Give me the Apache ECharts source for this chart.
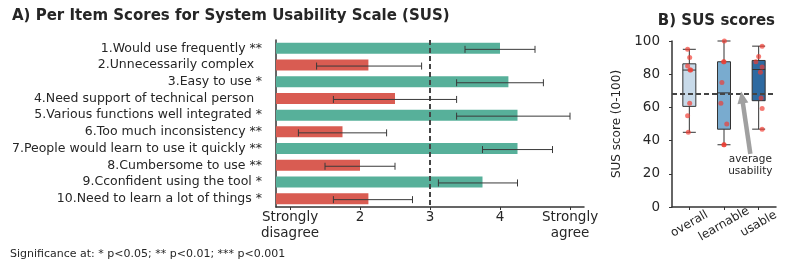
<!DOCTYPE html>
<html><head><meta charset="utf-8">
<script src="https://cdn.jsdelivr.net/npm/echarts@6/dist/echarts.min.js"></script>
<style>html,body{margin:0;padding:0;background:#fff}#c{width:789px;height:271px}</style>
</head><body><div id="c"></div>
<script>
// ---- Panel A data ----
const items = ["1.Would use frequently **","2.Unnecessarily complex  ","3.Easy to use *","4.Need support of technical person  ","5.Various functions well integrated *","6.Too much inconsistency **","7.People would learn to use it quickly **","8.Cumbersome to use **","9.Cconfident using the tool *","10.Need to learn a lot of things *"];
const itemMeans = [4.0, 2.12, 4.12, 2.5, 4.25, 1.75, 4.25, 2.0, 3.75, 2.12];
const errLow  = [3.5, 1.38, 3.38, 1.62, 3.38, 1.12, 3.75, 1.5, 3.12, 1.62];
const errHigh = [4.5, 2.88, 4.62, 3.38, 5.0, 2.38, 4.75, 2.5, 4.25, 2.75];
const itemPositive = [true,false,true,false,true,false,true,false,true,false];
const xTickValues = [1,2,3,4,5];
const xTickLabels = ["Strongly\ndisagree","2","3","4","Strongly\nagree"];
const neutral = 3;
// ---- Panel B data ----
const groups = ["overall","learnable","usable"];
const overallScores = [95, 90, 85, 82.5, 82.5, 62.5, 55, 45];
const learnableScores = [100, 87.5, 87.5, 75, 62.5, 50, 37.5, 37.5];
const usableScores = [96.9, 90.6, 87.5, 84.4, 81.25, 65.6, 59.4, 46.9];
const overallJitter = [-0.05, 0.01, -0.05, 0.02, 0.04, 0.01, -0.05, -0.03];
const learnableJitter = [0.01, -0.01, 0.0, -0.06, -0.09, 0.08, 0.0, 0.0];
const usableJitter = [0.1, 0.0, -0.08, 0.1, 0.05, 0.07, 0.1, 0.1];
const averageUsability = 68;

const groupScores = [overallScores, learnableScores, usableScores];
const groupJitter = [overallJitter, learnableJitter, usableJitter];
const boxColors = ['#c8dae9','#79abcf','#2e6aa1'];

function pct(arr, p){ const s=[...arr].sort((a,b)=>a-b); const idx=(s.length-1)*p; const lo=Math.floor(idx), hi=Math.ceil(idx); return s[lo]+(s[hi]-s[lo])*(idx-lo); }
const boxData = groupScores.map((g,i)=>({value:[Math.min(...g),pct(g,0.25),pct(g,0.5),pct(g,0.75),Math.max(...g)], itemStyle:{color:boxColors[i]}}));
const pointData = [];
groupScores.forEach((g,i)=>g.forEach((v,j)=>pointData.push([i+groupJitter[i][j], v])));

const txt = '#262626';
const font = 'DejaVu Sans';
const chart = echarts.init(document.getElementById('c'), null, {renderer:'canvas'});
chart.setOption({
  animation:false,
  textStyle:{fontFamily:font, color:txt},
  title:[
    {text:'A) Per Item Scores for System Usability Scale (SUS)', left:12, top:9, padding:0, textStyle:{fontFamily:font, fontSize:15, fontWeight:'bold', color:txt}},
    {text:'B) SUS scores', right:14, top:14, padding:0, textStyle:{fontFamily:font, fontSize:15, fontWeight:'bold', color:txt}},
    {text:'Significance at: * p<0.05; ** p<0.01; *** p<0.001', left:10, top:249, padding:0, textStyle:{fontFamily:font, fontSize:11, fontWeight:'normal', color:txt}}
  ],
  grid:[
    {left:276, top:40, width:308, height:167},
    {left:672, top:41, width:104, height:166}
  ],
  xAxis:[
    {gridIndex:0, type:'value', min:0.8, max:5.2,
     axisLine:{show:true, lineStyle:{color:'#333', width:1.5}},
     axisTick:{show:true, customValues:xTickValues, length:3, lineStyle:{color:'#333'}},
     splitLine:{show:false},
     axisLabel:{customValues:xTickValues, fontSize:13.5, color:txt, lineHeight:15.5, margin:3, fontFamily:font,
       formatter:v=>xTickLabels[xTickValues.indexOf(v)]}},
    {gridIndex:1, type:'category', data:groups, boundaryGap:true,
     axisLine:{show:true, lineStyle:{color:'#333', width:1.5}},
     axisTick:{show:true, alignWithLabel:true, length:3, lineStyle:{color:'#333'}},
     axisLabel:{rotate:30, align:'center', verticalAlign:'middle', fontSize:12, color:txt, margin:17, fontFamily:font, interval:0}},
    {gridIndex:1, type:'value', min:-0.5, max:2.5, show:false}
  ],
  yAxis:[
    {gridIndex:0, type:'category', data:items, inverse:true,
     axisLine:{show:true, lineStyle:{color:'#333', width:1.5}},
     axisTick:{show:false},
     axisLabel:{fontSize:12.5, color:txt, margin:14, fontFamily:font, interval:0}},
    {gridIndex:1, type:'value', min:0, max:100, interval:20,
     name:'SUS score (0-100)', nameLocation:'middle', nameGap:49, nameRotate:90,
     nameTextStyle:{fontSize:12, color:txt, fontFamily:font},
     axisLine:{show:true, onZero:false, lineStyle:{color:'#333', width:1.5}},
     axisTick:{show:true, length:3, lineStyle:{color:'#333'}},
     splitLine:{show:false},
     axisLabel:{fontSize:13.5, color:txt, margin:12, fontFamily:font}}
  ],
  series:[
    {type:'bar', xAxisIndex:0, yAxisIndex:0, barWidth:'66%', clip:true, z:2,
     data:itemMeans.map((v,i)=>({value:v, itemStyle:{color:itemPositive[i]?'#57b09a':'#d95c52'}})),
     markLine:{silent:true, symbol:'none', label:{show:false},
       lineStyle:{color:'#444', type:[5,3], width:2}, data:[{xAxis:neutral}]}},
    {type:'custom', xAxisIndex:0, yAxisIndex:0, clip:false, z:5,
     data:errLow.map((l,i)=>[l, errHigh[i], i]),
     renderItem:(params, api)=>{
       const a=api.coord([api.value(0), api.value(2)]);
       const b=api.coord([api.value(1), api.value(2)]);
       const y=a[1]+1, c=3.5;
       const st={stroke:'#3a3a3a', lineWidth:1};
       return {type:'group', children:[
         {type:'line', shape:{x1:a[0],y1:y,x2:b[0],y2:y}, style:st},
         {type:'line', shape:{x1:a[0],y1:y-c,x2:a[0],y2:y+c}, style:st},
         {type:'line', shape:{x1:b[0],y1:y-c,x2:b[0],y2:y+c}, style:st}
       ]};
     }},
    {type:'boxplot', xAxisIndex:1, yAxisIndex:1, boxWidth:[13,13],
     itemStyle:{borderColor:'#333', borderWidth:1}, data:boxData,
     markLine:{silent:true, symbol:'none', label:{show:false},
       lineStyle:{color:'#444', type:[5,3], width:2}, data:[{yAxis:averageUsability}]}},
    {type:'scatter', xAxisIndex:2, yAxisIndex:1, symbolSize:5, z:5,
     itemStyle:{color:'rgba(240,60,50,0.85)'}, data:pointData,
     markLine:{silent:true, symbol:['none','triangle'], symbolSize:[11,12], label:{show:false},
       lineStyle:{color:'#a0a0a0', type:'solid', width:4.5},
       data:[[{coord:[1.76,32]},{coord:[1.52,66]}]]},
     markPoint:{symbol:'circle', symbolSize:0, silent:true,
       label:{show:true, formatter:'average\nusability', fontSize:10.5, lineHeight:12, color:txt, fontFamily:font, position:'inside'},
       data:[{coord:[1.76,25]}]}}
  ]
});
</script></body></html>
